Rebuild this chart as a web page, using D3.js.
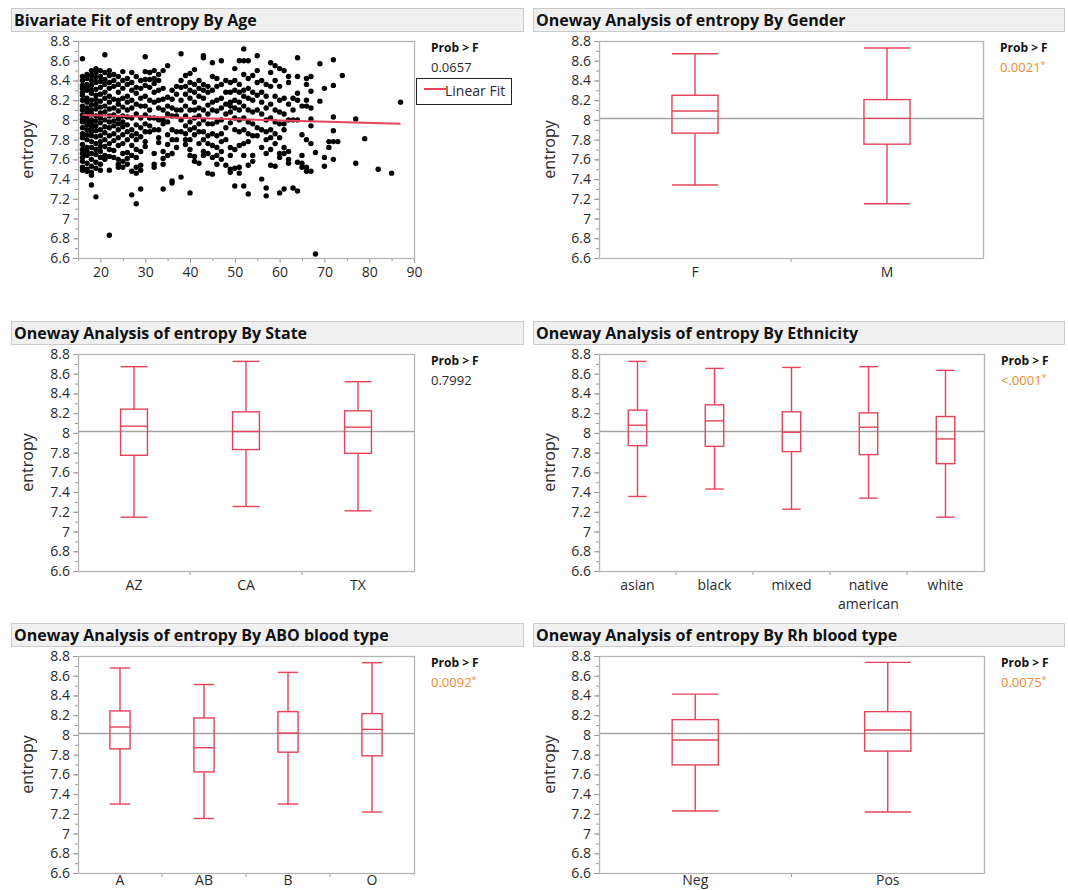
<!DOCTYPE html>
<html>
<head>
<meta charset="utf-8">
<script src="https://cdn.jsdelivr.net/npm/d3@7/dist/d3.min.js"></script>
<style>
  body { margin: 0; background: #fff; }
  svg { font-family: "Open Sans", "Noto Sans", sans-serif; }
</style>
</head>
<body>
<div id="chart"></div>
<script>
// ---- data ----
const yTicks = [6.6, 6.8, 7, 7.2, 7.4, 7.6, 7.8, 8, 8.2, 8.4, 8.6, 8.8];
const ageTicks = [20, 30, 40, 50, 60, 70, 80, 90];

const ages = [16, 17, 18, 19, 20, 21, 22, 23, 24, 25, 26, 27, 28, 29, 30, 31, 32, 33, 34, 35,
  36, 37, 38, 39, 40, 41, 42, 43, 44, 45, 46, 47, 48, 49, 50, 51, 52, 53, 54, 55,
  56, 57, 58, 59, 60, 61, 62, 63, 64, 65, 66, 67, 68, 69, 70, 71, 72, 73, 74, 77, 79, 82, 85, 87];
const entropyByAge = [
  [8.62, 8.44, 8.40, 8.35, 8.32, 8.28, 8.25, 8.20, 8.14, 8.10, 8.05, 8.01, 7.98, 7.92, 7.86, 7.82, 7.75, 7.70, 7.66, 7.62, 7.58, 7.52, 7.49],
  [8.46, 8.42, 8.36, 8.33, 8.30, 8.22, 8.18, 8.12, 8.08, 8.03, 7.99, 7.95, 7.90, 7.85, 7.80, 7.72, 7.68, 7.64, 7.56, 7.50, 7.48],
  [8.50, 8.45, 8.40, 8.35, 8.30, 8.27, 8.20, 8.15, 8.10, 8.06, 8.00, 7.96, 7.92, 7.88, 7.84, 7.78, 7.72, 7.66, 7.60, 7.53, 7.47, 7.44, 7.34],
  [8.52, 8.48, 8.43, 8.38, 8.31, 8.25, 8.21, 8.16, 8.11, 8.04, 7.99, 7.94, 7.89, 7.83, 7.76, 7.70, 7.65, 7.57, 7.51, 7.22],
  [8.50, 8.44, 8.39, 8.33, 8.26, 8.19, 8.13, 8.07, 8.02, 7.97, 7.90, 7.84, 7.78, 7.73, 7.68, 7.62, 7.55, 7.49],
  [8.66, 8.48, 8.41, 8.36, 8.28, 8.22, 8.14, 8.08, 8.00, 7.93, 7.87, 7.80, 7.73, 7.64, 7.60],
  [8.50, 8.45, 8.38, 8.32, 8.24, 8.18, 8.11, 8.04, 7.98, 7.92, 7.84, 7.76, 7.70, 7.63, 7.49, 6.83],
  [8.46, 8.40, 8.34, 8.21, 8.12, 8.05, 7.99, 7.94, 7.86, 7.79, 7.69, 7.62],
  [8.44, 8.36, 8.28, 8.20, 8.16, 8.09, 8.01, 7.96, 7.90, 7.82, 7.74, 7.60, 7.55, 7.52],
  [8.49, 8.40, 8.32, 8.22, 8.13, 8.04, 7.98, 7.93, 7.85, 7.76, 7.66, 7.58, 7.52],
  [8.42, 8.36, 8.24, 8.18, 8.10, 8.03, 7.95, 7.88, 7.80, 7.67, 7.61, 7.55],
  [8.48, 8.38, 8.30, 8.20, 8.12, 8.02, 7.90, 7.84, 7.74, 7.64, 7.48, 7.24],
  [8.44, 8.33, 8.27, 8.16, 8.06, 7.95, 7.86, 7.80, 7.70, 7.62, 7.52, 7.46, 7.15],
  [8.40, 8.32, 8.22, 8.14, 8.02, 7.92, 7.83, 7.68, 7.54, 7.49, 7.30],
  [8.64, 8.49, 8.41, 8.35, 8.24, 8.14, 8.05, 7.96, 7.88, 7.78, 7.73],
  [8.48, 8.41, 8.33, 8.20, 8.10, 8.02, 7.94, 7.88],
  [8.50, 8.42, 8.37, 8.28, 8.18, 8.02, 7.90, 7.66, 7.55, 7.52],
  [8.46, 8.40, 8.30, 8.20, 8.12, 8.00, 7.90, 7.82, 7.77],
  [8.50, 8.32, 8.21, 8.10, 8.00, 7.96, 7.68, 7.61, 7.55, 7.30],
  [8.55, 8.23, 8.14, 8.06, 7.98, 7.85, 7.75, 7.64],
  [8.30, 8.21, 8.12, 8.04, 7.90, 7.80, 7.66, 7.38, 7.36],
  [8.34, 8.26, 8.10, 8.04, 7.88, 7.80, 7.72],
  [8.67, 8.40, 8.33, 8.20, 8.10, 8.00, 7.88, 7.42],
  [8.45, 8.34, 8.26, 8.14, 8.04, 7.94, 7.86, 7.80, 7.75],
  [8.47, 8.38, 8.30, 8.22, 8.10, 7.98, 7.90, 7.80, 7.70, 7.64, 7.26],
  [8.51, 8.36, 8.28, 8.18, 8.10, 8.02, 7.92, 7.85, 7.63, 7.58],
  [8.40, 8.32, 8.24, 8.12, 8.04, 7.96, 7.88, 7.76, 7.56],
  [8.65, 8.63, 8.36, 8.30, 8.22, 8.10, 8.00, 7.88, 7.80, 7.68, 7.64],
  [8.34, 8.28, 8.15, 8.06, 7.96, 7.84, 7.76, 7.66, 7.46],
  [8.58, 8.44, 8.30, 8.18, 8.10, 7.96, 7.86, 7.74, 7.62, 7.45],
  [8.42, 8.34, 8.20, 8.09, 7.98, 7.84, 7.72, 7.64, 7.55],
  [8.60, 8.36, 8.22, 8.12, 8.00, 7.86, 7.78, 7.68, 7.60],
  [8.40, 8.28, 8.16, 8.06, 7.92, 7.80, 7.54],
  [8.38, 8.28, 8.18, 8.14, 8.08, 7.97, 7.72, 7.64, 7.50, 7.47],
  [8.52, 8.40, 8.30, 8.20, 8.12, 8.02, 7.90, 7.70, 7.51, 7.33],
  [8.60, 8.36, 8.28, 8.18, 8.10, 8.00, 7.88, 7.74, 7.52, 7.46],
  [8.72, 8.60, 8.46, 8.30, 8.24, 8.14, 8.02, 7.90, 7.76, 7.64, 7.33],
  [8.60, 8.42, 8.32, 8.22, 8.10, 7.98, 7.86, 7.78, 7.54, 7.25],
  [8.45, 8.28, 8.20, 8.08, 7.96, 7.84, 7.64, 7.58],
  [8.65, 8.50, 8.38, 8.25, 8.10, 7.92, 7.84],
  [8.40, 8.28, 8.18, 8.06, 7.90, 7.72, 7.40],
  [8.36, 8.24, 8.12, 8.00, 7.88, 7.80, 7.66, 7.31, 7.23],
  [8.58, 8.48, 8.34, 8.16, 8.02, 7.90, 7.82, 7.70, 7.54],
  [8.55, 8.40, 8.24, 8.10, 7.98, 7.86, 7.76, 7.53],
  [8.52, 8.34, 8.20, 8.08, 7.96, 7.82, 7.66, 7.62, 7.26],
  [8.50, 8.22, 8.06, 7.96, 7.90, 7.72, 7.66, 7.30],
  [8.44, 8.38, 8.16, 8.00, 7.68, 7.60, 7.56],
  [8.22, 8.10, 8.00, 7.31],
  [8.63, 8.44, 8.27, 8.20, 8.00, 7.57, 7.28],
  [8.14, 7.85, 7.64, 7.56, 7.52],
  [8.42, 8.36, 8.20, 8.14, 7.80, 7.52, 7.48],
  [8.44, 8.29, 8.12, 8.01, 7.94, 7.76, 7.48],
  [7.67, 6.64],
  [8.57, 8.19],
  [8.32, 7.62, 7.53],
  [7.78, 7.72],
  [8.61, 8.35, 8.03, 7.89, 7.78, 7.60],
  [7.78],
  [8.45],
  [8.01, 7.56],
  [7.81],
  [7.50],
  [7.46],
  [8.18]
];
// linear fit end points (age, entropy)
const fitAges = [16, 87];
const fitEntropy = [8.05, 7.96];

const grandMean = 8.015;

// box stats: [low whisker, q1, median, q3, high whisker]
const genderCats = ["F", "M"];
const genderStats = [[7.34, 7.866, 8.09, 8.25, 8.671], [7.15, 7.754, 8.016, 8.206, 8.729]];
const stateCats = ["AZ", "CA", "TX"];
const stateStats = [[7.146, 7.773, 8.068, 8.241, 8.671], [7.254, 7.831, 8.014, 8.214, 8.725], [7.21, 7.793, 8.058, 8.224, 8.519]];
const ethnicityCats = ["asian", "black", "mixed", "native american", "white"];
const ethnicityStats = [[7.356, 7.871, 8.078, 8.231, 8.725], [7.431, 7.864, 8.122, 8.285, 8.654],
  [7.227, 7.81, 8.007, 8.214, 8.664], [7.339, 7.78, 8.058, 8.203, 8.671], [7.146, 7.688, 7.939, 8.166, 8.634]];
const aboCats = ["A", "AB", "B", "O"];
const aboStats = [[7.299, 7.859, 8.08, 8.243, 8.678], [7.153, 7.625, 7.87, 8.172, 8.511],
  [7.299, 7.825, 8.019, 8.236, 8.634], [7.218, 7.788, 8.056, 8.216, 8.732]];
const rhCats = ["Neg", "Pos"];
const rhStats = [[7.228, 7.696, 7.948, 8.155, 8.413], [7.218, 7.836, 8.05, 8.236, 8.735]];

const probValues = ["0.0657", "0.0021", "0.7992", "<.0001", "0.0092", "0.0075"];
const probSignificant = [false, true, false, true, true, true];

// ---- drawing ----
const red = "#e5435a";
const orange = "#ef8a2d";
const textColor = "#2a2a2a";
const plotH = 217;

const svg = d3.select("#chart").append("svg")
  .attr("width", 1068)
  .attr("height", 890);

const panels = [
  { title: "Bivariate Fit of entropy By Age", col: 0, row: 0, w: 336 },
  { title: "Oneway Analysis of entropy By Gender", col: 1, row: 0, w: 384, cats: genderCats, stats: genderStats },
  { title: "Oneway Analysis of entropy By State", col: 0, row: 1, w: 336, cats: stateCats, stats: stateStats },
  { title: "Oneway Analysis of entropy By Ethnicity", col: 1, row: 1, w: 385, cats: ethnicityCats, stats: ethnicityStats },
  { title: "Oneway Analysis of entropy By ABO blood type", col: 0, row: 2, w: 336, cats: aboCats, stats: aboStats },
  { title: "Oneway Analysis of entropy By Rh blood type", col: 1, row: 2, w: 385, cats: rhCats, stats: rhStats },
];
const titleTops = [8, 321, 623];
const colX = [78, 599];
const barX = [[11, 523], [533, 1064]];

panels.forEach((p, i) => {
  const g = svg.append("g");
  const top = titleTops[p.row];
  const x0 = colX[p.col];
  const plotTop = top + 33;
  const plotBottom = plotTop + plotH;

  // title bar
  g.append("rect")
    .attr("x", barX[p.col][0] + 0.5).attr("y", top + 0.5)
    .attr("width", barX[p.col][1] - barX[p.col][0]).attr("height", 23)
    .attr("fill", "#f0f0f0").attr("stroke", "#cacaca");
  g.append("text")
    .attr("x", barX[p.col][0] + 3).attr("y", top + 17.5)
    .attr("font-size", 16).attr("font-weight", "bold").attr("fill", "#111")
    .text(p.title);

  const y = d3.scaleLinear().domain([6.6, 8.8]).range([plotBottom, plotTop]);

  // y axis ticks
  const minor = d3.range(66, 89, 1).map(d => d / 10);
  g.append("g")
    .attr("transform", `translate(${x0},0)`)
    .call(d3.axisLeft(y).tickValues(minor).tickSize(3).tickFormat(""))
    .call(a => a.select(".domain").remove())
    .call(a => a.selectAll("line").attr("stroke", "#999"));
  g.append("g")
    .attr("transform", `translate(${x0},0)`)
    .call(d3.axisLeft(y).tickValues(yTicks).tickSize(5).tickPadding(3).tickFormat(d3.format(".1~f")))
    .call(a => a.select(".domain").remove())
    .call(a => a.selectAll("line").attr("stroke", "#999"))
    .call(a => a.selectAll("text").attr("font-size", 14).attr("fill", textColor)
      .attr("font-family", "'Open Sans', sans-serif"));

  // y axis title
  const titleX = p.col === 0 ? 29 : 551;
  g.append("text")
    .attr("transform", `translate(${titleX},${(plotTop + plotBottom) / 2}) rotate(-90)`)
    .attr("text-anchor", "middle").attr("dominant-baseline", "middle")
    .attr("font-size", 16).attr("fill", textColor)
    .text("entropy");

  // Prob > F
  const px = x0 + p.w + 17;
  g.append("text")
    .attr("x", px).attr("y", top + 44)
    .attr("font-size", 12).attr("font-weight", "bold").attr("fill", "#111")
    .text("Prob > F");
  const pv = g.append("text")
    .attr("x", px).attr("y", top + 64)
    .attr("font-size", 13)
    .attr("fill", probSignificant[i] ? orange : textColor)
    .text(probValues[i]);
  if (probSignificant[i]) {
    pv.append("tspan").attr("font-size", 9).attr("dy", -4).text("*");
  }

  if (!p.cats) {
    // bivariate scatter
    const x = d3.scaleLinear().domain([15, 90]).range([x0, x0 + p.w]);
    g.append("g")
      .attr("transform", `translate(0,${plotBottom})`)
      .call(d3.axisBottom(x).tickValues(d3.range(15, 90, 10)).tickSize(3).tickFormat(""))
      .call(a => a.select(".domain").remove())
      .call(a => a.selectAll("line").attr("stroke", "#999"));
    g.append("g")
      .attr("transform", `translate(0,${plotBottom})`)
      .call(d3.axisBottom(x).tickValues(ageTicks).tickSize(5).tickPadding(4))
      .call(a => a.select(".domain").remove())
      .call(a => a.selectAll("line").attr("stroke", "#999"))
      .call(a => a.selectAll("text").attr("font-size", 14).attr("fill", textColor)
        .attr("font-family", "'Open Sans', sans-serif"));

    const pts = [];
    ages.forEach((a, k) => entropyByAge[k].forEach(e => pts.push([a, e])));
    g.append("g").selectAll("circle")
      .data(pts)
      .enter()
      .append("circle")
      .attr("cx", d => x(d[0]))
      .attr("cy", d => y(d[1]))
      .attr("r", 2.7)
      .attr("fill", "#000");

    g.append("path")
      .datum(fitAges.map((a, k) => [a, fitEntropy[k]]))
      .attr("d", d3.line().x(d => x(d[0])).y(d => y(d[1])))
      .attr("fill", "none").attr("stroke", red).attr("stroke-width", 2);

    // legend
    const lx = x0 + p.w + 2;
    g.append("rect")
      .attr("x", lx + 0.5).attr("y", 78.5).attr("width", 95).attr("height", 26)
      .attr("fill", "#fff").attr("stroke", "#222");
    g.append("line")
      .attr("x1", lx + 8).attr("x2", lx + 30).attr("y1", 89).attr("y2", 89)
      .attr("stroke", red).attr("stroke-width", 2);
    g.append("text")
      .attr("x", lx + 29).attr("y", 96)
      .attr("font-size", 14).attr("fill", textColor)
      .text("Linear Fit");
  } else {
    const x = d3.scaleBand().domain(p.cats).range([x0, x0 + p.w]);
    const bw = x.bandwidth() * 0.24;

    // boundary ticks
    g.append("g").selectAll("line")
      .data(p.cats.slice(1))
      .enter()
      .append("line")
      .attr("x1", d => x(d)).attr("x2", d => x(d))
      .attr("y1", plotBottom).attr("y2", plotBottom + 4)
      .attr("stroke", "#999");

    // category labels
    g.append("g").selectAll("text")
      .data(p.cats)
      .enter()
      .append("text")
      .attr("x", d => x(d) + x.bandwidth() / 2)
      .attr("y", Math.min(plotBottom + 19, 885))
      .attr("text-anchor", "middle")
      .attr("font-size", 14).attr("fill", textColor)
      .each(function (d) {
        const words = d.split(" ");
        d3.select(this).selectAll("tspan")
          .data(words)
          .enter()
          .append("tspan")
          .attr("x", x(d) + x.bandwidth() / 2)
          .attr("dy", (w, j) => (j === 0 ? 0 : 19))
          .text(w => w);
      });

    // grand mean
    g.append("line")
      .attr("x1", x0).attr("x2", x0 + p.w)
      .attr("y1", y(grandMean)).attr("y2", y(grandMean))
      .attr("stroke", "#a3a3a3").attr("stroke-width", 1.5);

    const boxes = g.append("g")
      .selectAll("g")
      .data(p.cats.map((c, k) => ({ c, s: p.stats[k] })))
      .enter()
      .append("g")
      .attr("stroke", red).attr("stroke-width", 1.4).attr("fill", "none");

    boxes.each(function (d) {
      const b = d3.select(this);
      const cx = x(d.c) + x.bandwidth() / 2;
      const [lo, q1, med, q3, hi] = d.s;
      b.append("line").attr("x1", cx).attr("x2", cx).attr("y1", y(hi)).attr("y2", y(q3));
      b.append("line").attr("x1", cx).attr("x2", cx).attr("y1", y(q1)).attr("y2", y(lo));
      b.append("line").attr("x1", cx - bw / 2).attr("x2", cx + bw / 2).attr("y1", y(hi)).attr("y2", y(hi));
      b.append("line").attr("x1", cx - bw / 2).attr("x2", cx + bw / 2).attr("y1", y(lo)).attr("y2", y(lo));
      b.append("rect").attr("x", cx - bw / 2).attr("y", y(q3)).attr("width", bw).attr("height", y(q1) - y(q3));
      b.append("line").attr("x1", cx - bw / 2).attr("x2", cx + bw / 2).attr("y1", y(med)).attr("y2", y(med));
    });
  }

  // plot frame
  g.append("rect")
    .attr("x", x0 + 0.5).attr("y", plotTop + 0.5)
    .attr("width", p.w).attr("height", plotH)
    .attr("fill", "none").attr("stroke", "#b5b5b5").attr("stroke-width", 1.3);
});
</script>
</body>
</html>
